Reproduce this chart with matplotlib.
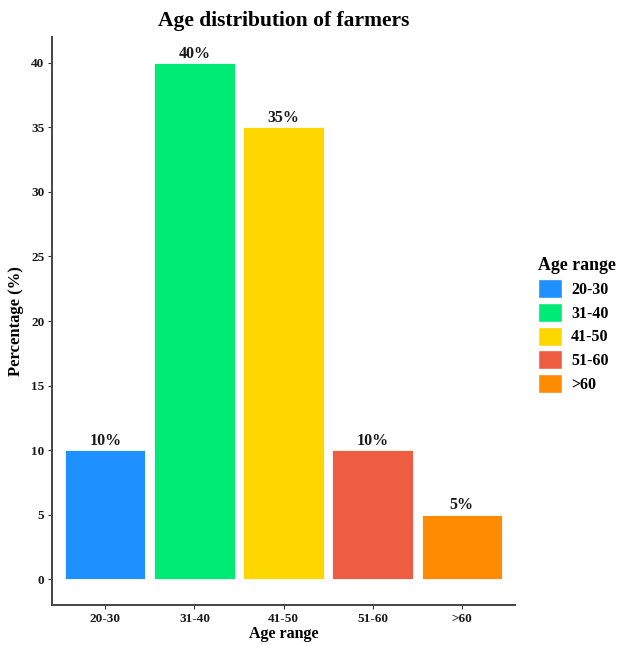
import matplotlib.pyplot as plt
from matplotlib.patches import Patch

plt.rcParams['font.family'] = ['Liberation Serif', 'DejaVu Serif']
plt.rcParams['font.weight'] = 'bold'

# ===== 数据 =====
age_groups = ['20-30', '31-40', '41-50', '51-60', '>60']
percentages = [10, 40, 35, 10, 5]
bar_colors = ['#1E90FF', '#00EB76', '#FFD700', '#EE5C42', '#FF8C00']

fig = plt.figure(figsize=(6.19, 6.45), dpi=100)
ax = fig.add_axes([52 / 619, 1 - 605 / 645, (515 - 52) / 619, (605 - 37) / 645])

x = list(range(1, len(age_groups) + 1))
ax.bar(x, percentages, width=0.9, color=bar_colors, edgecolor='white', linewidth=0.6)

for xi, v in zip(x, percentages):
    ax.text(xi, v + 0.1, f'{v}%', ha='center', va='bottom',
            fontsize=11.5, fontweight='bold', color='#1a1a1a')

ax.set_xlim(0.4, 5.6)
ax.set_ylim(-2, 42)
ax.set_xticks(x)
ax.set_xticklabels(age_groups)
ax.set_yticks(range(0, 41, 5))
ax.tick_params(axis='both', labelsize=9.5, length=3, width=0.8, pad=2.5,
               color='#333333', labelcolor='#1a1a1a')

for side in ['top', 'right']:
    ax.spines[side].set_visible(False)
for side in ['left', 'bottom']:
    ax.spines[side].set_linewidth(1.4)
    ax.spines[side].set_color('#444444')

ax.set_xlabel('Age range', fontsize=11.5, fontweight='bold', labelpad=1)
ax.set_ylabel('Percentage (%)', fontsize=12, fontweight='bold', labelpad=5)
ax.set_title('Age distribution of farmers', fontsize=15.5, fontweight='bold', pad=8)

handles = [Patch(facecolor=c, edgecolor='white') for c in bar_colors]
fig.legend(handles, age_groups, title='Age range', loc='upper left',
           bbox_to_anchor=(524 / 619, 1 - 243 / 645), frameon=False,
           fontsize=11.5, title_fontproperties={'size': 12.8, 'weight': 'bold'},
           handlelength=1.45, handleheight=1.45, handletextpad=0.6,
           labelspacing=0.3, alignment='left')

fig.savefig('out.png', dpi=100, facecolor='white')
